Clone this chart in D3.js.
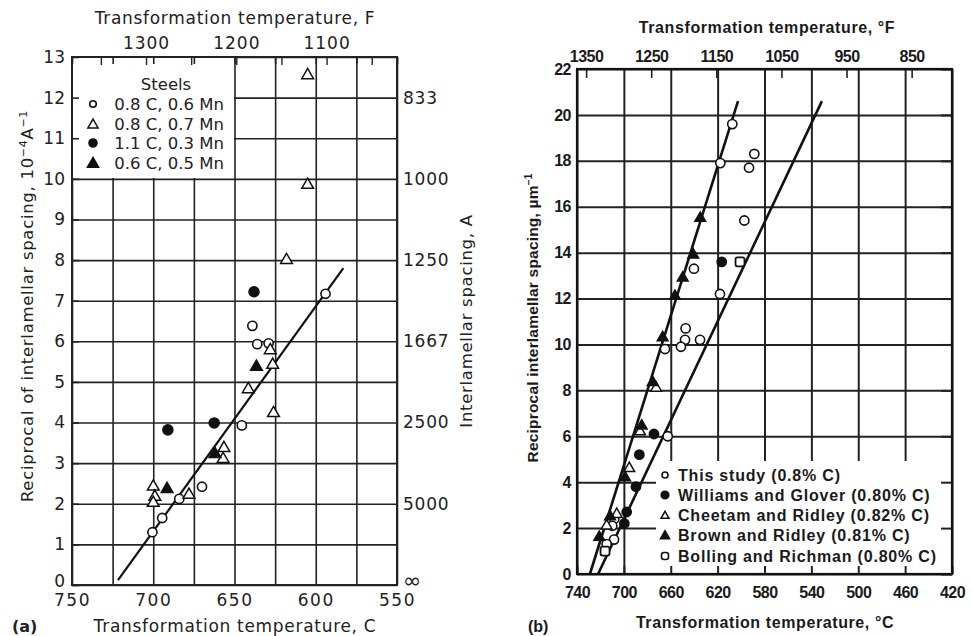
<!DOCTYPE html>
<html>
<head>
<meta charset="utf-8">
<script src="https://cdn.jsdelivr.net/npm/d3@7"></script>
<style>
  body { margin: 0; background: #fff; }
  svg { display: block; }
  .pa text { font-family: "DejaVu Sans", sans-serif; fill: #222; }
  .pb text { font-family: "Liberation Sans Narrow", "Liberation Sans", sans-serif; font-weight: bold; fill: #1a1a1a; }
</style>
</head>
<body>
<div id="chart"></div>
<script>
// ---- panel (a) data : [temperature C, reciprocal spacing 1e-4/A]
const aOpenCircle = [[700.5,1.3],[694.5,1.65],[684,2.12],[670,2.42],[645.5,3.93],[639,6.38],[636,5.93],[629,5.95],[594,7.17]];
const aOpenTri = [[605,12.55],[605,9.85],[618,8.0],[700,2.42],[699,2.17],[700,2.02],[678,2.22],[656.5,3.37],[657,3.1],[641.5,4.82],[626.5,5.42],[626,4.23],[628,5.78]];
const aFilledCircle = [[638,7.22],[691,3.82],[662.5,3.99]];
const aFilledTri = [[691.5,2.36],[662,3.22],[636.5,5.37]];
const aFit = [[721.7,0.12],[583,7.8]];
const aXTicks = [750,700,650,600,550];
const aFTicks = [1300,1200,1100];
const aFMinor = [1350,1300,1250,1200,1150,1100,1050];
const aRightLabels = {12:"833",10:"1000",8:"1250",6:"1667",4:"2500",2:"5000",0:"\u221e"};
const aLegend = ["0.8 C, 0.6 Mn","0.8 C, 0.7 Mn","1.1 C, 0.3 Mn","0.6 C, 0.5 Mn"];

// ---- panel (b) data : [temperature C, reciprocal spacing 1/um]
const bThisStudy = [[607.5,19.6],[617.7,17.9],[588.7,18.3],[593.2,17.7],[597.2,15.4],[640.2,13.3],[618,12.2],[647.3,10.7],[647.8,10.2],[651.3,9.9],[635,10.2],[664.9,9.8],[662.6,6.0],[708.2,2.4],[709.9,2.1],[708.4,1.5],[714.7,1.3]];
const bWilliams = [[616.5,13.6],[674.3,6.1],[686.8,5.2],[689.7,3.8],[697.6,2.7],[699.6,2.2]];
const bCheetam = [[672.5,8.1],[686.2,6.2],[695.4,4.6],[706.1,2.6],[714.7,2.1]];
const bBrown = [[634.8,15.5],[640.8,13.9],[649.8,12.9],[656.4,12.1],[666.9,10.3],[675.4,8.35],[684.8,6.45],[699,4.2],[711.8,2.5],[721,1.6]];
const bBolling = [[600.9,13.6],[716.1,1.0]];
const bFit1 = [[729,0],[602.6,20.6]];
const bFit2 = [[722,0],[531,20.6]];
const bXTicks = [740,700,660,620,580,540,500,460,420];
const bYTicks = [0,2,4,6,8,10,12,14,16,18,20,22];
const bFTicks = [1350,1250,1150,1050,950,850];
const bLegend = ["This study (0.8% C)","Williams and Glover (0.80% C)","Cheetam and Ridley (0.82% C)","Brown and Ridley (0.81% C)","Bolling and Richman (0.80% C)"];

const toF = c => c * 9 / 5 + 32;
const svg = d3.select("#chart").append("svg").attr("width", 972).attr("height", 636);
svg.append("rect").attr("width", 972).attr("height", 636).attr("fill", "#fff");

function styleAxis(g, w) {
  g.select(".domain").remove();
  g.selectAll("line").attr("stroke", "#222").attr("stroke-width", w);
}

// ================= panel (a)
const A = svg.append("g").attr("class", "pa");
const ax = d3.scaleLinear().domain([750, 550]).range([72, 397]);
const ay = d3.scaleLinear().domain([0, 13]).range([585, 57]);
const axF = d3.scaleLinear().domain([toF(750), toF(550)]).range([72, 397]);

// grid
A.append("g").attr("transform", "translate(0,585)")
  .call(d3.axisBottom(ax).tickValues(d3.range(750, 549, -25)).tickSize(-528).tickFormat(""))
  .call(g => styleAxis(g, 1.6));
A.append("g").attr("transform", "translate(72,0)")
  .call(d3.axisLeft(ay).tickValues(d3.range(0, 14)).tickSize(-325).tickFormat(""))
  .call(g => styleAxis(g, 1.6));
// legend box hides grid
A.append("rect").attr("x", 73).attr("y", 58).attr("width", 161).attr("height", 120).attr("fill", "#fff");
// inner ticks on frame
A.append("g").attr("transform", "translate(0,57)")
  .call(d3.axisTop(ax).tickValues(d3.range(750, 549, -25)).tickSize(-7).tickFormat(""))
  .call(g => styleAxis(g, 1.6));
A.append("g").attr("transform", "translate(72,0)")
  .call(d3.axisLeft(ay).tickValues(d3.range(0, 14)).tickSize(-7).tickFormat(""))
  .call(g => styleAxis(g, 1.6));
A.append("g").attr("transform", "translate(0,57)")
  .call(d3.axisTop(axF).tickValues(aFMinor).tickSize(-8).tickFormat(""))
  .call(g => styleAxis(g, 1.4));
A.append("rect").attr("x", 72).attr("y", 57).attr("width", 325).attr("height", 528)
  .attr("fill", "none").attr("stroke", "#222").attr("stroke-width", 2);

// tick labels
A.append("g").attr("transform", "translate(0,585)")
  .call(d3.axisBottom(ax).tickValues(aXTicks).tickSize(0).tickPadding(9).tickFormat(d3.format("d")))
  .call(g => g.select(".domain").remove())
  .selectAll("text").attr("font-size", 17).attr("letter-spacing", 1.5);
A.append("g").attr("transform", "translate(72,0)")
  .call(d3.axisLeft(ay).tickValues(d3.range(0, 14)).tickSize(0).tickPadding(7))
  .call(g => g.select(".domain").remove())
  .selectAll("text").attr("font-size", 17).attr("dy", d => d === 0 ? "0.1em" : "0.32em");
A.append("g").attr("transform", "translate(0,57)")
  .call(d3.axisTop(axF).tickValues(aFTicks).tickSize(0).tickPadding(8).tickFormat(d3.format("d")))
  .call(g => g.select(".domain").remove())
  .selectAll("text").attr("font-size", 17).attr("letter-spacing", 1);
A.append("g").attr("transform", "translate(397,0)")
  .call(d3.axisRight(ay).tickValues([0, 2, 4, 6, 8, 10, 12]).tickSize(0).tickPadding(6).tickFormat(d => aRightLabels[d]))
  .call(g => g.select(".domain").remove())
  .selectAll("text").attr("font-size", d => d === 0 ? 22 : 17).attr("dy", d => d === 0 ? "0.1em" : "0.32em")
  .attr("letter-spacing", d => d === 0 ? 0 : 0.8);

// titles
A.append("text").attr("x", 235).attr("y", 24).attr("text-anchor", "middle").attr("font-size", 17)
  .attr("letter-spacing", 0.7).text("Transformation temperature, F");
A.append("text").attr("x", 235).attr("y", 632).attr("text-anchor", "middle").attr("font-size", 17)
  .attr("letter-spacing", 0.7).text("Transformation temperature, C");
A.append("text").attr("x", 12).attr("y", 632).attr("font-size", 16).attr("font-weight", "bold").text("(a)");
const aYL = A.append("text").attr("transform", "translate(33,306) rotate(-90)").attr("text-anchor", "middle")
  .attr("font-size", 16.5).attr("letter-spacing", 0.7);
aYL.append("tspan").text("Reciprocal of interlamellar spacing, 10");
aYL.append("tspan").attr("dy", -6).attr("font-size", 11).text("\u22124");
aYL.append("tspan").attr("dy", 6).text("A");
aYL.append("tspan").attr("dy", -6).attr("font-size", 11).text("\u22121");
A.append("text").attr("transform", "translate(472,321) rotate(-90)").attr("text-anchor", "middle").attr("font-size", 16.5)
  .attr("letter-spacing", 0.7).text("Interlamellar spacing, A");

// fit line
const aLine = d3.line().x(d => ax(d[0])).y(d => ay(d[1]));
A.append("path").datum(aFit).attr("d", aLine).attr("fill", "none").attr("stroke", "#111").attr("stroke-width", 2.2);

const tri = d3.symbol().type(d3.symbolTriangle);
function drawCircles(g, data, sx, sy, r, filled) {
  g.selectAll(null).data(data).enter().append("circle")
    .attr("cx", d => sx(d[0])).attr("cy", d => sy(d[1])).attr("r", r)
    .attr("fill", filled ? "#111" : "#fff").attr("stroke", "#111").attr("stroke-width", 1.6);
}
function drawTris(g, data, sx, sy, size, filled) {
  g.selectAll(null).data(data).enter().append("path")
    .attr("d", tri.size(size)())
    .attr("transform", d => `translate(${sx(d[0])},${sy(d[1])})`)
    .attr("fill", filled ? "#111" : "#fff").attr("stroke", "#111").attr("stroke-width", 1.5);
}
drawCircles(A, aOpenCircle, ax, ay, 4.6, false);
drawTris(A, aOpenTri, ax, ay, 60, false);
drawCircles(A, aFilledCircle, ax, ay, 5, true);
drawTris(A, aFilledTri, ax, ay, 60, true);

// legend (a)
A.append("text").attr("x", 166).attr("y", 90).attr("text-anchor", "middle").attr("font-size", 16.5).text("Steels");
const aLegY = [104, 124, 143, 163];
const aLegG = A.append("g");
drawCircles(aLegG, [[0, 0]], () => 93, () => aLegY[0], 3.3, false);
drawTris(aLegG, [[0, 0]], () => 93, () => aLegY[1] + 1, 45, false);
drawCircles(aLegG, [[0, 0]], () => 93, () => aLegY[2], 4, true);
drawTris(aLegG, [[0, 0]], () => 93, () => aLegY[3] + 1, 55, true);
A.selectAll(null).data(aLegend).enter().append("text")
  .attr("x", 224).attr("y", (d, i) => aLegY[i] + 6).attr("text-anchor", "end").attr("font-size", 16.5)
  .text(d => d);

// ================= panel (b)
const B = svg.append("g").attr("class", "pb");
const bx = d3.scaleLinear().domain([740, 420]).range([577, 952]);
const by = d3.scaleLinear().domain([0, 22]).range([574, 69]);
const bxF = d3.scaleLinear().domain([toF(740), toF(420)]).range([577, 952]);

B.append("g").attr("transform", "translate(0,574)")
  .call(d3.axisBottom(bx).tickValues(bXTicks).tickSize(-505).tickFormat(""))
  .call(g => styleAxis(g, 2));
B.append("g").attr("transform", "translate(577,0)")
  .call(d3.axisLeft(by).tickValues(bYTicks).tickSize(-375).tickFormat(""))
  .call(g => styleAxis(g, 2));
B.append("rect").attr("x", 656).attr("y", 461).attr("width", 296).attr("height", 113).attr("fill", "#fff");
B.append("g").attr("transform", "translate(0,574)")
  .call(d3.axisBottom(bx).tickValues(bXTicks).tickSize(-8).tickFormat(""))
  .call(g => styleAxis(g, 2));
B.append("g").attr("transform", "translate(952,0)")
  .call(d3.axisRight(by).tickValues(bYTicks).tickSize(-11).tickFormat(""))
  .call(g => styleAxis(g, 2));
B.append("g").attr("transform", "translate(0,69)")
  .call(d3.axisTop(bxF).tickValues(bFTicks).tickSize(-9).tickFormat(""))
  .call(g => styleAxis(g, 1.6));
B.append("rect").attr("x", 577).attr("y", 69).attr("width", 375).attr("height", 505)
  .attr("fill", "none").attr("stroke", "#111").attr("stroke-width", 2.2);

B.append("g").attr("transform", "translate(0,574)")
  .call(d3.axisBottom(bx).tickValues(bXTicks).tickSize(0).tickPadding(13).tickFormat(d3.format("d")))
  .call(g => g.select(".domain").remove())
  .selectAll("text").attr("font-size", 16).attr("letter-spacing", -0.5);
B.append("g").attr("transform", "translate(577,0)")
  .call(d3.axisLeft(by).tickValues(bYTicks).tickSize(0).tickPadding(6).tickFormat(d3.format("d")))
  .call(g => g.select(".domain").remove())
  .selectAll("text").attr("font-size", 16).attr("letter-spacing", -0.5);
B.append("g").attr("transform", "translate(0,69)")
  .call(d3.axisTop(bxF).tickValues(bFTicks).tickSize(0).tickPadding(7).tickFormat(d3.format("d")))
  .call(g => g.select(".domain").remove())
  .selectAll("text").attr("font-size", 16).attr("letter-spacing", -0.5);

B.append("text").attr("x", 767).attr("y", 33).attr("text-anchor", "middle").attr("font-size", 16)
  .attr("font-family", "Liberation Sans").attr("letter-spacing", 0.6).text("Transformation temperature, \u00b0F");
B.append("text").attr("x", 765).attr("y", 628).attr("text-anchor", "middle").attr("font-size", 16)
  .attr("font-family", "Liberation Sans").attr("letter-spacing", 0.6).text("Transformation temperature, \u00b0C");
B.append("text").attr("x", 528).attr("y", 632).attr("font-size", 16).attr("font-family", "Liberation Sans").text("(b)");
const bYL = B.append("text").attr("transform", "translate(538,318) rotate(-90)").attr("text-anchor", "middle")
  .attr("font-size", 15.5).attr("font-family", "Liberation Sans").attr("letter-spacing", 0.2);
bYL.append("tspan").text("Reciprocal interlamellar spacing, \u00b5m");
bYL.append("tspan").attr("dy", -6).attr("font-size", 10).text("\u22121");

const bLine = d3.line().x(d => bx(d[0])).y(d => by(d[1]));
[bFit1, bFit2].forEach(f => B.append("path").datum(f).attr("d", bLine)
  .attr("fill", "none").attr("stroke", "#111").attr("stroke-width", 2.6));

drawCircles(B, bThisStudy, bx, by, 4.6, false);
drawCircles(B, bWilliams, bx, by, 4.6, true);
drawTris(B, bCheetam, bx, by, 50, false);
drawTris(B, bBrown, bx, by, 50, true);
B.selectAll(null).data(bBolling).enter().append("rect")
  .attr("x", d => bx(d[0]) - 4.5).attr("y", d => by(d[1]) - 4.5).attr("width", 9).attr("height", 9).attr("rx", 2)
  .attr("fill", "#fff").attr("stroke", "#111").attr("stroke-width", 1.8);

// legend (b)
const bLegY = [475, 495, 515, 535, 556];
const bLegG = B.append("g");
drawCircles(bLegG, [[0, 0]], () => 665, () => bLegY[0], 3, false);
drawCircles(bLegG, [[0, 0]], () => 665, () => bLegY[1], 3.8, true);
drawTris(bLegG, [[0, 0]], () => 665, () => bLegY[2] + 1, 28, false);
drawTris(bLegG, [[0, 0]], () => 665, () => bLegY[3] + 1, 36, true);
bLegG.append("rect").attr("x", 661.5).attr("y", bLegY[4] - 3.5).attr("width", 7).attr("height", 7).attr("rx", 2.5)
  .attr("fill", "#fff").attr("stroke", "#111").attr("stroke-width", 1.6);
B.selectAll(null).data(bLegend).enter().append("text")
  .attr("x", 678).attr("y", (d, i) => bLegY[i] + 6).attr("font-size", 16).attr("font-family", "Liberation Sans")
  .attr("letter-spacing", 0.8).text(d => d);
</script>
</body>
</html>
